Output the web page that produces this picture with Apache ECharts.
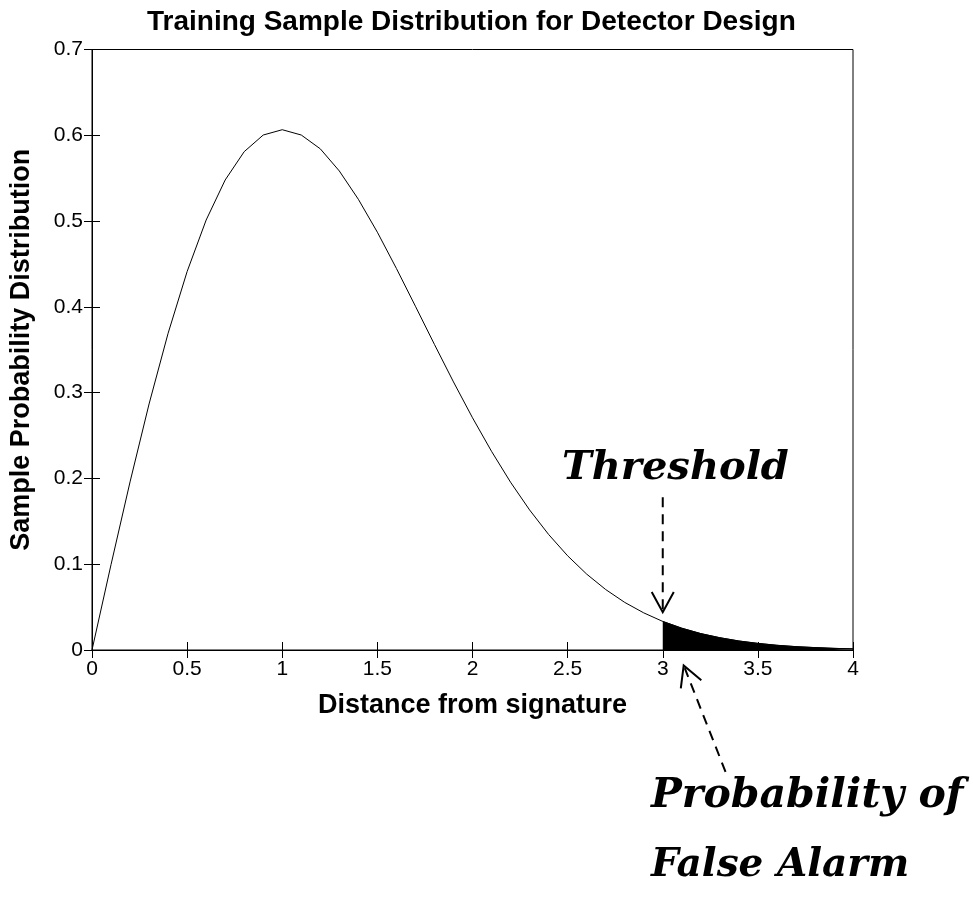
<!DOCTYPE html>
<html>
<head>
<meta charset="utf-8">
<script src="https://cdn.jsdelivr.net/npm/echarts@6/dist/echarts.min.js"></script>
<style>
  html, body { margin: 0; padding: 0; background: #fff; }
  #chart { width: 974px; height: 897px; }
</style>
</head>
<body>
<div id="chart"></div>
<script>
// Distance from signature (x) and sample probability density (y)
const distance = [0.0, 0.1, 0.2, 0.3, 0.4, 0.5, 0.6, 0.7, 0.8, 0.9,
                  1.0, 1.1, 1.2, 1.3, 1.4, 1.5, 1.6, 1.7, 1.8, 1.9,
                  2.0, 2.1, 2.2, 2.3, 2.4, 2.5, 2.6, 2.7, 2.8, 2.9,
                  3.0, 3.1, 3.2, 3.3, 3.4, 3.5, 3.6, 3.7, 3.8, 3.9, 4.0];
const density = [0.0000, 0.0995, 0.1960, 0.2868, 0.3692, 0.4412, 0.5012, 0.5479, 0.5809, 0.6003,
                 0.6065, 0.6003, 0.5842, 0.5584, 0.5254, 0.4870, 0.4448, 0.4007, 0.3562, 0.3125,
                 0.2707, 0.2316, 0.1956, 0.1633, 0.1347, 0.1098, 0.0885, 0.0705, 0.0555, 0.0433,
                 0.0333, 0.0254, 0.0191, 0.0143, 0.0105, 0.0077, 0.0055, 0.0039, 0.0028, 0.0019, 0.0013];
const threshold = 3.0;

const xTicks = [0, 0.5, 1, 1.5, 2, 2.5, 3, 3.5, 4];
const yTicks = [0, 0.1, 0.2, 0.3, 0.4, 0.5, 0.6, 0.7];

const curve = distance.map((d, i) => [d, density[i]]);
const tail = curve.filter(p => p[0] >= threshold);

const font = 'Liberation Sans, Arial, Helvetica, sans-serif';
const scriptFont = 'DejaVu Serif, serif';

const chart = echarts.init(document.getElementById('chart'), null, { renderer: 'canvas' });

const axisCommon = {
  type: 'value',
  axisLine: { show: true, lineStyle: { color: '#000', width: 1 } },
  axisTick: { show: true, inside: true, length: 8, lineStyle: { color: '#000' } },
  splitLine: { show: false }
};

chart.setOption({
  backgroundColor: '#fff',
  animation: false,
  title: {
    text: 'Training Sample Distribution for Detector Design',
    left: 142,
    top: 3,
    textStyle: { fontFamily: font, fontSize: 28, fontWeight: 'bold', color: '#000' }
  },
  grid: { left: 91, right: 121, top: 49.5, bottom: 247, show: true, borderColor: '#000', borderWidth: 1, backgroundColor: 'transparent' },
  xAxis: [
    Object.assign({}, axisCommon, {
      min: xTicks[0], max: xTicks[xTicks.length - 1], interval: 0.5,
      name: 'Distance from signature', nameLocation: 'middle', nameGap: 42,
      nameTextStyle: { fontFamily: font, fontSize: 27, fontWeight: 'bold', color: '#000' },
      axisLabel: { fontFamily: font, fontSize: 21, color: '#000', margin: 9 }
    }),
    Object.assign({}, axisCommon, {
      position: 'top', min: xTicks[0], max: xTicks[xTicks.length - 1], interval: 0.5,
      axisLabel: { show: false }
    })
  ],
  yAxis: [
    Object.assign({}, axisCommon, {
      min: yTicks[0], max: yTicks[yTicks.length - 1], interval: 0.1,
      name: 'Sample Probability Distribution', nameLocation: 'middle', nameGap: 57,
      nameTextStyle: { fontFamily: font, fontSize: 27, fontWeight: 'bold', color: '#000' },
      axisLabel: { fontFamily: font, fontSize: 21, color: '#000', margin: 9 }
    }),
    Object.assign({}, axisCommon, {
      position: 'right', min: yTicks[0], max: yTicks[yTicks.length - 1], interval: 0.1,
      axisLabel: { show: false }
    })
  ],
  series: [
    {
      type: 'line',
      data: curve,
      symbol: 'none',
      lineStyle: { color: '#000', width: 1 },
      z: 3
    },
    {
      type: 'line',
      data: tail,
      symbol: 'none',
      lineStyle: { color: '#000', width: 1 },
      areaStyle: { color: '#000', opacity: 1 },
      z: 2
    }
  ]
});

// Annotations: arrows anchored in data coordinates
function px(x, y) { return chart.convertToPixel({ gridIndex: 0 }, [x, y]); }

function dashedArrow(from, to) {
  const a = px(from[0], from[1]);
  const b = px(to[0], to[1]);
  const ang = Math.atan2(b[1] - a[1], b[0] - a[0]);
  const L = 23, spread = 0.5;
  const h1 = [b[0] - L * Math.cos(ang - spread), b[1] - L * Math.sin(ang - spread)];
  const h2 = [b[0] - L * Math.cos(ang + spread), b[1] - L * Math.sin(ang + spread)];
  return [
    { type: 'line', shape: { x1: a[0], y1: a[1], x2: b[0] - 3 * Math.cos(ang), y2: b[1] - 3 * Math.sin(ang) },
      style: { stroke: '#000', lineWidth: 2, lineDash: [10, 7] }, z: 10 },
    { type: 'polyline', shape: { points: [h1, b, h2] },
      style: { stroke: '#000', lineWidth: 2, fill: null }, z: 10 }
  ];
}

const g = [];
g.push(...dashedArrow([threshold, 0.178], [threshold, 0.044]));
g.push(...dashedArrow([3.33, -0.142], [3.11, -0.018]));

g.push({
  type: 'text', left: 562, top: 449, z: 10,
  style: { text: 'Threshold', fontFamily: scriptFont, fontStyle: 'italic', fontWeight: 'bold', fontSize: 40, fill: '#000' }
});
g.push({
  type: 'text', left: 651, top: 776, z: 10,
  style: { text: 'Probability of', fontFamily: scriptFont, fontStyle: 'italic', fontWeight: 'bold', fontSize: 41, fill: '#000' }
});
g.push({
  type: 'text', left: 651, top: 846, z: 10,
  style: { text: 'False Alarm', fontFamily: scriptFont, fontStyle: 'italic', fontWeight: 'bold', fontSize: 39, fill: '#000' }
});

chart.setOption({ graphic: g });
</script>
</body>
</html>
